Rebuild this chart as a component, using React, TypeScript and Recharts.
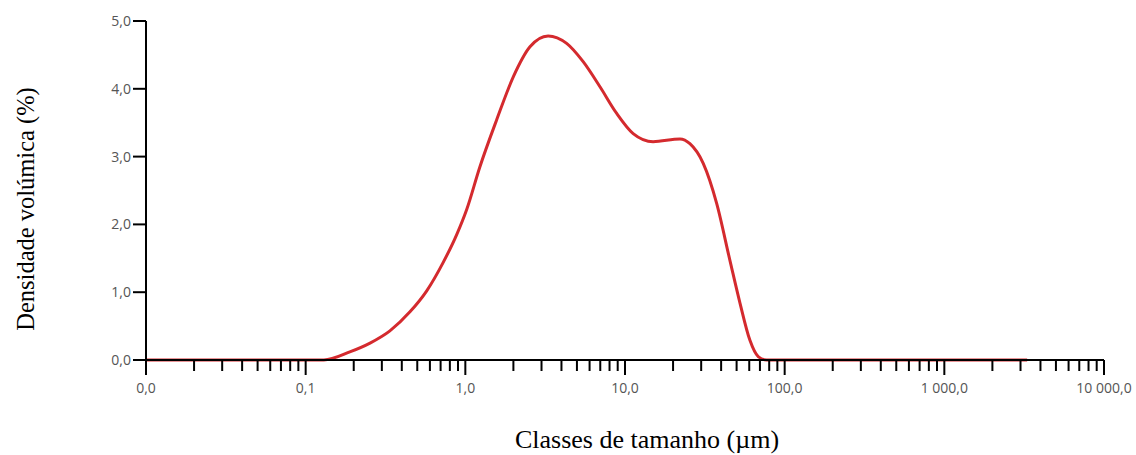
import { Line, LineChart, XAxis, YAxis, Label } from "recharts"

// particle size classes (µm) and volume density (%)
const sizes = [
  0.01, 0.13, 0.189, 0.253, 0.337, 0.45, 0.573, 0.727, 0.883, 1.02, 1.23, 1.57, 2.0, 2.54, 3.3, 4.31, 5.47, 6.97, 8.85,
  11.25, 15.0, 22.1, 25.5, 30.9, 37.5, 45.4, 52.5, 60.6, 68.3, 77, 3300,
]
const density = [
  0, 0, 0.12, 0.25, 0.43, 0.71, 1.02, 1.44, 1.85, 2.22, 2.84, 3.54, 4.18, 4.62, 4.78, 4.67, 4.4, 4.03, 3.64, 3.34, 3.22,
  3.26, 3.19, 2.9, 2.31, 1.47, 0.84, 0.29, 0.05, 0, 0,
]

const majorTicks = [0.01, 0.1, 1, 10, 100, 1000, 10000]
const majorLabels = ["0,0", "0,1", "1,0", "10,0", "100,0", "1 000,0", "10 000,0"]
const minorSteps = [2, 3, 4, 5, 6, 7, 8, 9]
const yTicks = [0, 1, 2, 3, 4, 5]

const data = sizes.map((s, i) => ({ size: s, density: density[i] }))

const xTicks: number[] = []
majorTicks.forEach((m, i) => {
  xTicks.push(m)
  if (i < majorTicks.length - 1) minorSteps.forEach((k) => xTicks.push(m * k))
})

const tickFont = "'Open Sans', 'Noto Sans', sans-serif"
const titleFont = "'Liberation Serif', 'Times New Roman', serif"

function XTick(props: any) {
  const { x, y, payload } = props
  const idx = majorTicks.findIndex((m) => Math.abs(m - payload.value) / m < 1e-6)
  const major = idx >= 0
  return (
    <g>
      <line x1={x} y1={y} x2={x} y2={y + (major ? 15 : 11)} stroke="#000" strokeWidth={2} />
      {major && (
        <text x={x} y={y + 33} textAnchor="middle" fontSize={14} fill="#555" fontFamily={tickFont}>
          {majorLabels[idx]}
        </text>
      )}
    </g>
  )
}

export default function App() {
  return (
    <div style={{ position: "absolute", left: 0, top: 0, background: "#fff" }}>
      <LineChart width={1136} height={455} data={data} margin={{ top: 21, right: 32, bottom: 0, left: 0 }}>
        <XAxis
          dataKey="size"
          type="number"
          scale="log"
          domain={[0.01, 10000]}
          ticks={xTicks}
          interval={0}
          tick={<XTick />}
          tickSize={0}
          tickMargin={0}
          tickLine={false}
          height={95}
          stroke="#000"
          strokeWidth={2}
          allowDataOverflow
        >
          <Label
            content={() => (
              <text x={647} y={448} textAnchor="middle" fontSize={26} fill="#000" fontFamily={titleFont}>
                Classes de tamanho (µm)
              </text>
            )}
          />
        </XAxis>
        <YAxis
          type="number"
          domain={[0, 5]}
          ticks={yTicks}
          width={146}
          tickSize={13}
          tickMargin={2}
          stroke="#000"
          strokeWidth={2}
          tick={{ fontSize: 14, fill: "#555", fontFamily: tickFont }}
          tickFormatter={(v: number) => v.toFixed(1).replace(".", ",")}
        >
          <Label
            content={() => (
              <text
                x={28}
                y={209}
                textAnchor="middle"
                fontSize={24.5}
                fill="#000"
                fontFamily={titleFont}
                transform="rotate(-90 28 209)"
                dominantBaseline="middle"
              >
                Densidade volúmica (%)
              </text>
            )}
          />
        </YAxis>
        <Line
          type="monotone"
          dataKey="density"
          stroke="#d42a2e"
          strokeWidth={3}
          dot={false}
          isAnimationActive={false}
        />
      </LineChart>
    </div>
  )
}
